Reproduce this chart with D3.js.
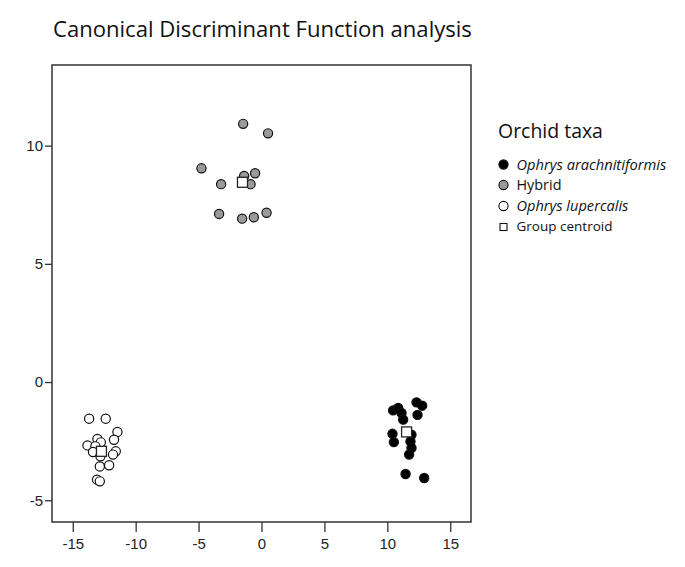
<!DOCTYPE html>
<html><head><meta charset="utf-8">
<script src="https://cdn.jsdelivr.net/npm/d3@7"></script>
<style>body{margin:0;background:#fff}svg{display:block}</style>
</head><body>
<script>
// ---- data ----
const xTicks = [-15, -10, -5, 0, 5, 10, 15];
const yTicks = [-5, 0, 5, 10];
const arachX = [10.46, 10.86, 11.13, 12.32, 12.77, 12.40, 11.26, 10.41, 10.52, 11.92, 11.84, 11.92, 11.73, 11.45, 12.93];
const arachY = [-1.20, -1.10, -1.31, -0.86, -1.00, -1.39, -1.59, -2.19, -2.54, -2.23, -2.51, -2.79, -3.07, -3.89, -4.06];
const hybridX = [-1.46, 0.52, -4.77, -0.51, -1.38, -0.87, -3.21, -3.37, -1.54, -0.61, 0.40];
const hybridY = [10.92, 10.52, 9.04, 8.83, 8.72, 8.37, 8.37, 7.11, 6.91, 6.97, 7.16];
const luperX = [-13.70, -12.38, -11.45, -11.72, -13.83, -13.04, -12.77, -13.20, -13.39, -11.58, -11.80, -12.80, -12.85, -12.11, -13.07, -12.85];
const luperY = [-1.55, -1.55, -2.11, -2.44, -2.68, -2.41, -2.55, -2.72, -2.96, -2.93, -3.07, -3.14, -3.57, -3.52, -4.13, -4.20];
const centroidX = [11.53, -1.51, -12.72];
const centroidY = [-2.11, 8.45, -2.93];
const groups = ["Ophrys arachnitiformis", "Hybrid", "Ophrys lupercalis"];
const title = "Canonical Discriminant Function analysis";
const legendTitle = "Orchid taxa";
const centroidLabel = "Group centroid";

// ---- layout ----
const W = 685, H = 567;
const L = 52, R = 471, T = 65, B = 522;
const fills = ["#000000", "#9a9a9a", "#ffffff"];
const italic = [true, false, true];

const svg = d3.select("body").append("svg").attr("width", W).attr("height", H);
const x = d3.scaleLinear().domain([-16.65, 16.65]).range([L, R]);
const y = d3.scaleLinear().domain([-5.92, 13.41]).range([B, T]);

function fit(sel, target) {
  const w = sel.node().getComputedTextLength();
  const fs = parseFloat(sel.attr("font-size"));
  sel.attr("font-size", fs * target / w);
}

// title
const t = svg.append("text").attr("x", 53).attr("y", 37)
  .attr("font-family", "Open Sans, Noto Sans, sans-serif").attr("font-size", 19)
  .attr("fill", "#111").text(title);
fit(t, 419);

// axes
const fmt = d => String(d);
const xAxis = svg.append("g").attr("transform", `translate(0,${B})`)
  .call(d3.axisBottom(x).tickValues(xTicks).tickFormat(fmt).tickSizeOuter(0).tickSizeInner(10).tickPadding(6));
const yAxis = svg.append("g").attr("transform", `translate(${L},0)`)
  .call(d3.axisLeft(y).tickValues(yTicks).tickFormat(fmt).tickSizeOuter(0).tickSizeInner(7).tickPadding(2));
[xAxis, yAxis].forEach(g => {
  g.attr("font-size", null).attr("font-family", null);
  g.select(".domain").remove();
  g.selectAll("line").attr("stroke", "#333").attr("stroke-width", 1.3);
  g.selectAll("text").style("font-family", "Liberation Sans, Arial, sans-serif").style("font-size", "15px").attr("fill", "#222");
});

// frame
svg.append("rect").attr("x", L).attr("y", T).attr("width", R - L).attr("height", B - T)
  .attr("fill", "none").attr("stroke", "#333").attr("stroke-width", 1.5);

// points
const sets = [[arachX, arachY], [hybridX, hybridY], [luperX, luperY]];
const pts = svg.append("g");
sets.forEach((s, gi) => {
  pts.selectAll(null).data(s[0].map((v, i) => [v, s[1][i]])).enter().append("circle")
    .attr("cx", d => x(d[0])).attr("cy", d => y(d[1])).attr("r", 4.6)
    .attr("fill", fills[gi]).attr("stroke", "#111").attr("stroke-width", 1.2);
});
// centroids
const cs = 10;
svg.append("g").selectAll("rect").data(centroidX.map((v, i) => [v, centroidY[i]])).enter().append("rect")
  .attr("x", d => x(d[0]) - cs / 2).attr("y", d => y(d[1]) - cs / 2).attr("width", cs).attr("height", cs)
  .attr("fill", "#fff").attr("stroke", "#222").attr("stroke-width", 1.3);

// legend
const lg = svg.append("g");
const lt = lg.append("text").attr("x", 498).attr("y", 138)
  .attr("font-family", "Open Sans, Noto Sans, sans-serif").attr("font-size", 19).attr("fill", "#111").text(legendTitle);
fit(lt, 105);
const rowY = [164.5, 185, 206];
const rowW = [150, 45, 112];
groups.forEach((g, i) => {
  lg.append("circle").attr("cx", 503.5).attr("cy", rowY[i]).attr("r", 4.6)
    .attr("fill", fills[i]).attr("stroke", "#111").attr("stroke-width", 1.1);
  const tx = lg.append("text").attr("x", 516.5).attr("y", rowY[i] + 5)
    .attr("font-family", "Open Sans, Noto Sans, sans-serif").attr("font-size", 14)
    .attr("font-style", italic[i] ? "italic" : "normal").attr("fill", "#111").text(g);
  fit(tx, rowW[i]);
});
lg.append("rect").attr("x", 500).attr("y", 223.5).attr("width", 7).attr("height", 7)
  .attr("fill", "#fff").attr("stroke", "#111").attr("stroke-width", 1.1);
const ct = lg.append("text").attr("x", 516.5).attr("y", 231)
  .attr("font-family", "Open Sans, Noto Sans, sans-serif").attr("font-size", 12).attr("fill", "#111").text(centroidLabel);
fit(ct, 96);
</script>
</body></html>
